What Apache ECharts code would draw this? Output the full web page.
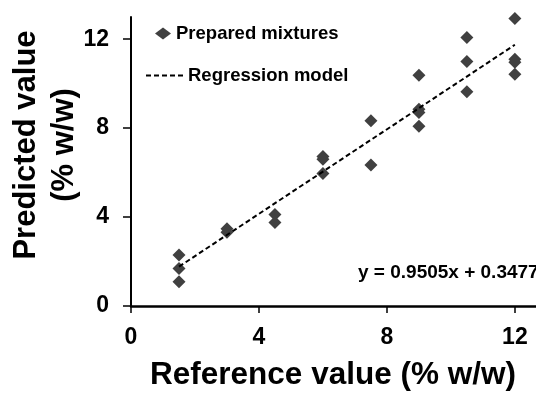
<!DOCTYPE html>
<html>
<head>
<meta charset="utf-8">
<script src="https://cdn.jsdelivr.net/npm/echarts@6/dist/echarts.min.js"></script>
<style>
html,body{margin:0;padding:0;background:#fff;}
#chart{width:536px;height:396px;}
</style>
</head>
<body>
<div id="chart"></div>
<script>
// Reference values (% w/w) and predicted values
var referenceX = [1.5, 1.5, 1.5, 3, 3, 4.5, 4.5, 6, 6, 6, 7.5, 7.5, 9, 9, 9, 9, 10.5, 10.5, 10.5, 12, 12, 12, 12];
var predictedY = [2.29, 1.69, 1.09, 3.48, 3.32, 4.12, 3.76, 6.72, 6.6, 5.96, 8.33, 6.34, 10.38, 8.85, 8.7, 8.09, 12.08, 11.0, 9.64, 12.93, 11.1, 10.96, 10.42];
// Regression model line end points
var regressionX = [1.5, 12];
var regressionY = [1.77, 11.75];
var tickValues = [0, 4, 8, 12];
var seriesNames = ['Prepared mixtures', 'Regression model'];
var xTitle = 'Reference value (% w/w)';
var yTitle = 'Predicted value\n(% w/w)';
var equationText = 'y = 0.9505x + 0.3477';

var FONT = 'Liberation Sans, Arial, sans-serif';
var scatterData = referenceX.map(function (x, i) { return [x, predictedY[i]]; });
var lineData = regressionX.map(function (x, i) { return [x, regressionY[i]]; });

var chart = echarts.init(document.getElementById('chart'), null, {renderer: 'canvas'});
chart.setOption({
  animation: false,
  backgroundColor: '#ffffff',
  grid: {left: 131, top: 17, right: 0, bottom: 90, containLabel: false},
  xAxis: {
    type: 'value', min: 0, max: 12.66,
    splitLine: {show: false},
    axisLine: {onZero: false, lineStyle: {color: '#000', width: 2.5}},
    axisTick: {show: true, inside: false, length: 7, customValues: tickValues, lineStyle: {color: '#000', width: 1.5}},
    axisLabel: {customValues: tickValues, margin: 20, color: '#000', fontFamily: FONT, fontWeight: 'bold', fontSize: 23}
  },
  yAxis: {
    type: 'value', min: 0, max: 13,
    splitLine: {show: false},
    axisLine: {onZero: false, lineStyle: {color: '#000', width: 2}},
    axisTick: {show: true, inside: false, length: 8, customValues: tickValues, lineStyle: {color: '#000', width: 1.5}},
    axisLabel: {customValues: tickValues, margin: 22, color: '#000', fontFamily: FONT, fontWeight: 'bold', fontSize: 23}
  },
  legend: [
    {
      data: [{name: seriesNames[0], icon: 'diamond'}],
      left: 155, top: 24, itemWidth: 16, itemHeight: 12, padding: 0,
      textStyle: {color: '#000', fontFamily: FONT, fontWeight: 'bold', fontSize: 18.5}
    },
    {
      data: [seriesNames[1]],
      left: 145, top: 66, itemWidth: 37, itemHeight: 12, padding: 0,
      itemStyle: {opacity: 0, borderWidth: 0},
      lineStyle: {type: [5, 3], width: 2, color: '#000'},
      textStyle: {color: '#000', fontFamily: FONT, fontWeight: 'bold', fontSize: 18.5}
    }
  ],
  graphic: [
    {
      type: 'text', x: 333, y: 375,
      style: {text: xTitle, font: 'bold 31.5px ' + FONT, fill: '#000', textAlign: 'center', textVerticalAlign: 'middle'}
    },
    {
      type: 'text', x: 45, y: 145, rotation: Math.PI / 2,
      style: {text: yTitle, font: 'bold 31px ' + FONT, fill: '#000', textAlign: 'center', textVerticalAlign: 'middle', lineHeight: 38}
    },
    {
      type: 'text', x: 358, y: 273,
      style: {text: equationText, font: 'bold 19px ' + FONT, fill: '#000', textAlign: 'left', textVerticalAlign: 'middle'}
    }
  ],
  series: [
    {
      name: seriesNames[0], type: 'scatter', data: scatterData,
      symbol: 'diamond', symbolSize: 13,
      itemStyle: {color: '#404040', opacity: 1}
    },
    {
      name: seriesNames[1], type: 'line', data: lineData,
      symbol: 'none', showSymbol: false, silent: true,
      itemStyle: {color: '#000'},
      lineStyle: {color: '#000', width: 2, type: [5, 3]}
    }
  ]
});
</script>
</body>
</html>
